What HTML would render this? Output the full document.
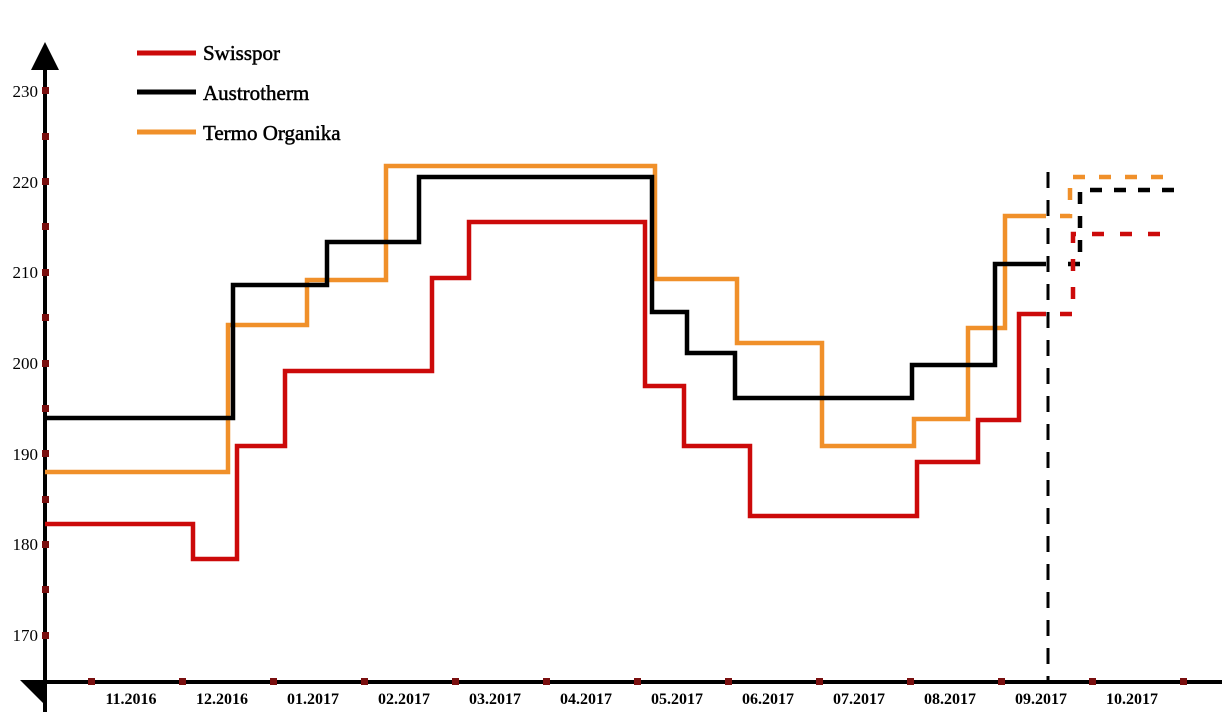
<!DOCTYPE html>
<html><head><style>
html,body{margin:0;padding:0;background:#fff;}
svg{display:block;}
text{font-family:"Liberation Serif",serif;}
</style></head><body>
<svg width="1226" height="721" viewBox="0 0 1226 721" xmlns="http://www.w3.org/2000/svg">
<line x1="45" y1="62" x2="45" y2="712" stroke="#000" stroke-width="4"/>
<polygon points="31,70 59,70 45,42" fill="#000"/>
<line x1="30" y1="682" x2="1222" y2="682" stroke="#000" stroke-width="4"/>
<polygon points="20,680 45,680 45,705" fill="#000"/>
<g fill="#7a0f0f">
<rect x="42" y="87" width="7" height="7"/><rect x="42" y="133" width="7" height="7"/>
<rect x="42" y="178" width="7" height="7"/><rect x="42" y="223" width="7" height="7"/>
<rect x="42" y="269" width="7" height="7"/><rect x="42" y="314" width="7" height="7"/>
<rect x="42" y="360" width="7" height="7"/><rect x="42" y="405" width="7" height="7"/>
<rect x="42" y="450" width="7" height="7"/><rect x="42" y="496" width="7" height="7"/>
<rect x="42" y="541" width="7" height="7"/><rect x="42" y="586" width="7" height="7"/>
<rect x="42" y="632" width="7" height="7"/>
<rect x="88" y="678" width="7" height="7"/><rect x="179" y="678" width="7" height="7"/>
<rect x="270" y="678" width="7" height="7"/><rect x="361" y="678" width="7" height="7"/>
<rect x="452" y="678" width="7" height="7"/><rect x="543" y="678" width="7" height="7"/>
<rect x="634" y="678" width="7" height="7"/><rect x="725" y="678" width="7" height="7"/>
<rect x="816" y="678" width="7" height="7"/><rect x="907" y="678" width="7" height="7"/>
<rect x="998" y="678" width="7" height="7"/><rect x="1089" y="678" width="7" height="7"/>
<rect x="1180" y="678" width="7" height="7"/>
</g>
<g font-size="17" text-anchor="end">
<text x="38" y="97">230</text><text x="38" y="188">220</text><text x="38" y="278">210</text>
<text x="38" y="369">200</text><text x="38" y="460">190</text><text x="38" y="550">180</text>
<text x="38" y="641">170</text>
</g>
<g font-size="16" font-weight="bold" text-anchor="middle">
<text x="131" y="704">11.2016</text><text x="222" y="704">12.2016</text><text x="313" y="704">01.2017</text>
<text x="404" y="704">02.2017</text><text x="495" y="704">03.2017</text><text x="586" y="704">04.2017</text>
<text x="677" y="704">05.2017</text><text x="768" y="704">06.2017</text><text x="859" y="704">07.2017</text>
<text x="950" y="704">08.2017</text><text x="1041" y="704">09.2017</text><text x="1132" y="704">10.2017</text>
</g>
<line x1="137" y1="53" x2="196" y2="53" stroke="#cc0a0a" stroke-width="5"/>
<line x1="137" y1="92" x2="196" y2="92" stroke="#000" stroke-width="5"/>
<line x1="137" y1="132" x2="196" y2="132" stroke="#f0902a" stroke-width="5"/>
<g font-size="21" stroke="#000" stroke-width="0.5">
<text x="203" y="60">Swisspor</text><text x="203" y="100">Austrotherm</text><text x="203" y="140">Termo Organika</text>
</g>
<line x1="1048" y1="172" x2="1048" y2="682" stroke="#000" stroke-width="3" stroke-dasharray="16,12"/>
<g fill="none" stroke-width="4.5">
<polyline stroke="#f0902a" points="45,472 228,472 228,325 307,325 307,280 386,280 386,166 655,166 655,279 737,279 737,343 822,343 822,446 914,446 914,419 968,419 968,328 1005,328 1005,216 1046,216"/>
<polyline stroke="#000" points="45,418 233,418 233,285 327,285 327,242 419,242 419,177 652,177 652,312 687,312 687,353 735,353 735,398 912,398 912,365 995,365 995,264 1046,264"/>
<polyline stroke="#cc0a0a" points="45,524 193,524 193,559 237,559 237,446 285,446 285,371 432,371 432,278 469,278 469,222 645,222 645,386 684,386 684,446 750,446 750,516 917,516 917,462 978,462 978,420 1019,420 1019,314 1046,314"/>
<polyline stroke="#f0902a" stroke-dasharray="12,14" points="1060,216 1070,216 1070,177 1175,177"/>
<polyline stroke="#000" stroke-dasharray="12,12" points="1068,264 1080,264 1080,190 1175,190"/>
<polyline stroke="#cc0a0a" stroke-dasharray="12,16" points="1060,314 1073,314 1073,234 1175,234"/>
</g>
</svg>
</body></html>
